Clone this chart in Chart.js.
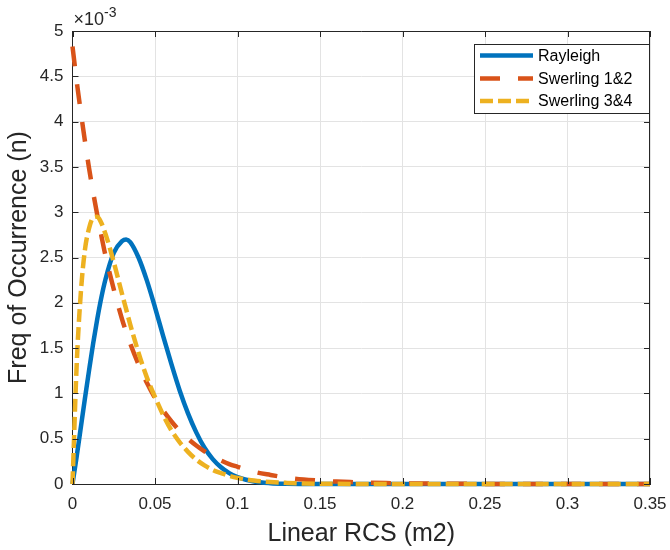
<!DOCTYPE html>
<html>
<head>
<meta charset="utf-8">
<script src="https://cdn.jsdelivr.net/npm/chart.js@4.4.0/dist/chart.umd.min.js"></script>
<style>
  html, body { margin: 0; padding: 0; background: #fff; }
</style>
</head>
<body>
<canvas id="rcsChart" width="670" height="550"></canvas>
<script>
// linear RCS (m2) sample points
const rcs = [0, 0.0025, 0.005, 0.0075, 0.01, 0.0125, 0.015, 0.0175, 0.02, 0.025, 0.03, 0.0325, 0.035, 0.04, 0.045, 0.05,
  0.055, 0.06, 0.065, 0.07, 0.075, 0.08, 0.085, 0.09, 0.095, 0.1, 0.11, 0.12, 0.13, 0.14, 0.15,
  0.16, 0.17, 0.18, 0.19, 0.2, 0.22, 0.25, 0.3, 0.35];

// frequency of occurrence, in units of 1e-3
const rayleigh = [0, 0.30, 0.62, 0.94, 1.25, 1.55, 1.82, 2.06, 2.26, 2.55, 2.68, 2.70, 2.67, 2.50, 2.25, 1.95,
  1.63, 1.32, 1.03, 0.78, 0.57, 0.40, 0.275, 0.185, 0.12, 0.075, 0.027, 0.009, 0.003, 0.001, 0,
  0, 0, 0, 0, 0, 0, 0, 0, 0];
const swerling12 = [4.83, 4.45, 4.11, 3.79, 3.49, 3.22, 2.97, 2.74, 2.52, 2.15, 1.82, 1.68, 1.55, 1.32, 1.12, 0.95,
  0.81, 0.69, 0.585, 0.50, 0.425, 0.36, 0.305, 0.26, 0.22, 0.19, 0.135, 0.10, 0.07, 0.05, 0.037,
  0.027, 0.02, 0.014, 0.01, 0.007, 0.004, 0.001, 0, 0];
const swerling34 = [0, 1.30, 2.10, 2.58, 2.82, 2.94, 2.95, 2.88, 2.76, 2.45, 2.10, 1.93, 1.76, 1.45, 1.18, 0.96,
  0.76, 0.59, 0.46, 0.355, 0.27, 0.205, 0.155, 0.12, 0.09, 0.068, 0.038, 0.021, 0.012, 0.006, 0.003,
  0.002, 0.001, 0, 0, 0, 0, 0, 0, 0];

const xTicks = [0, 0.05, 0.1, 0.15, 0.2, 0.25, 0.3, 0.35];
const yTicks = [0, 0.5, 1, 1.5, 2, 2.5, 3, 3.5, 4, 4.5, 5];

const axisColor = '#262626';
const gridColor = '#e3e3e3';
const fontFamily = '"Liberation Sans", Arial, Helvetica, sans-serif';

const toPoints = ys => rcs.map((x, i) => ({ x: x, y: ys[i] }));

// box, inward ticks, exponent label and legend drawn like MATLAB
const matlabFrame = {
  id: 'matlabFrame',
  afterDraw(chart) {
    const { ctx, chartArea: a, scales } = chart;
    const xs = scales.x, ys = scales.y;
    ctx.save();
    ctx.strokeStyle = axisColor;
    ctx.lineWidth = 1;
    ctx.setLineDash([]);
    ctx.beginPath();
    ctx.moveTo(a.left, Math.round(a.top) + 0.5);
    ctx.lineTo(a.right, Math.round(a.top) + 0.5);
    ctx.moveTo(Math.round(a.right) - 0.5, a.top);
    ctx.lineTo(Math.round(a.right) - 0.5, a.bottom);
    const tl = 6;
    xTicks.forEach(v => {
      const px = Math.round(xs.getPixelForValue(v)) + 0.5;
      ctx.moveTo(px, a.bottom); ctx.lineTo(px, a.bottom - tl);
      ctx.moveTo(px, a.top); ctx.lineTo(px, a.top + tl);
    });
    yTicks.forEach(v => {
      const py = Math.round(ys.getPixelForValue(v)) + 0.5;
      ctx.moveTo(a.left, py); ctx.lineTo(a.left + tl, py);
      ctx.moveTo(a.right, py); ctx.lineTo(a.right - tl, py);
    });
    ctx.stroke();

    // x10^-3
    ctx.fillStyle = axisColor;
    ctx.textBaseline = 'alphabetic';
    ctx.textAlign = 'left';
    ctx.font = '18px ' + fontFamily;
    ctx.fillText('\u00d710', a.left + 1, 25);
    const w = ctx.measureText('\u00d710').width;
    ctx.font = '14px ' + fontFamily;
    ctx.fillText('-3', a.left + 1 + w, 17);

    // legend
    const lx = a.right - 176, ly = a.top + 13, lw = 175, lh = 69;
    ctx.fillStyle = '#fff';
    ctx.fillRect(lx, ly, lw, lh);
    ctx.strokeStyle = axisColor;
    ctx.strokeRect(lx + 0.5, ly + 0.5, lw, lh);
    const rows = [11.5, 34.5, 57];
    chart.data.datasets.forEach((ds, i) => {
      const ry = ly + rows[i];
      ctx.strokeStyle = ds.borderColor;
      ctx.lineWidth = ds.borderWidth;
      ctx.setLineDash(ds.borderDash || []);
      ctx.beginPath();
      ctx.moveTo(lx + 6, ry);
      ctx.lineTo(lx + 59, ry);
      ctx.stroke();
      ctx.setLineDash([]);
      ctx.fillStyle = '#000';
      ctx.font = '16px ' + fontFamily;
      ctx.textBaseline = 'middle';
      ctx.fillText(ds.label, lx + 64, ry + 1);
    });
    ctx.restore();
  }
};

const ctx = document.getElementById('rcsChart').getContext('2d');
new Chart(ctx, {
  type: 'line',
  data: {
    datasets: [
      { label: 'Rayleigh', data: toPoints(rayleigh), borderColor: '#0072BD', borderWidth: 4.5, order: 3 },
      { label: 'Swerling 1&2', data: toPoints(swerling12), borderColor: '#D95319', borderWidth: 4.5, borderDash: [20, 18], order: 2 },
      { label: 'Swerling 3&4', data: toPoints(swerling34), borderColor: '#EDB120', borderWidth: 4.5, borderDash: [13, 5], order: 1 }
    ]
  },
  options: {
    responsive: false,
    animation: false,
    devicePixelRatio: 1,
    layout: { padding: { top: 31, right: 20, left: 0, bottom: 0 } },
    elements: {
      point: { radius: 0 },
      line: { cubicInterpolationMode: 'monotone', borderCapStyle: 'butt', fill: false }
    },
    datasets: { line: { clip: 4 } },
    plugins: { legend: { display: false }, tooltip: { enabled: false } },
    scales: {
      x: {
        type: 'linear', min: 0, max: 0.35,
        afterBuildTicks: s => { s.ticks = xTicks.map(v => ({ value: v })); },
        afterFit: s => { s.height = 66; s.paddingLeft = 0; s.paddingRight = 0; },
        grid: { color: gridColor, drawTicks: false },
        border: { color: axisColor, width: 1 },
        ticks: { color: axisColor, font: { family: fontFamily, size: 17 }, padding: 10, maxRotation: 0, autoSkip: false, callback: v => String(v) },
        title: { display: true, text: 'Linear RCS (m2)', color: axisColor, font: { family: fontFamily, size: 25, lineHeight: 1 }, padding: { top: 0, bottom: 3 } }
      },
      y: {
        type: 'linear', min: 0, max: 5,
        afterBuildTicks: s => { s.ticks = yTicks.map(v => ({ value: v })); },
        afterFit: s => { s.width = 72.5; s.paddingTop = 0; s.paddingBottom = 0; },
        grid: { color: gridColor, drawTicks: false },
        border: { color: axisColor, width: 1 },
        ticks: { color: axisColor, font: { family: fontFamily, size: 17 }, padding: 9, autoSkip: false, callback: v => String(v) },
        title: { display: true, text: 'Freq of Occurrence (n)', color: axisColor, font: { family: fontFamily, size: 25, lineHeight: 1 }, padding: { top: 7, bottom: 0 } }
      }
    }
  },
  plugins: [matlabFrame]
});
</script>
</body>
</html>
